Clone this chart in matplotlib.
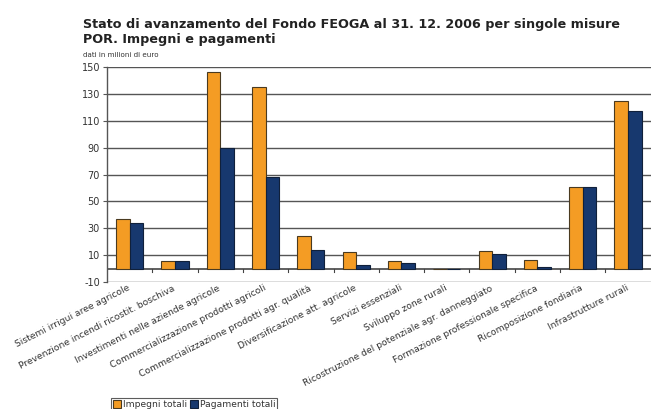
import numpy as np
import matplotlib
matplotlib.use("Agg")
import matplotlib.pyplot as plt

categorie = [
    "Sistemi irrigui aree agricole",
    "Prevenzione incendi ricostit. boschiva",
    "Investimenti nelle aziende agricole",
    "Commercializzazione prodotti agricoli",
    "Commercializzazione prodotti agr. qualità",
    "Diversificazione att. agricole",
    "Servizi essenziali",
    "Sviluppo zone rurali",
    "Ricostruzione del potenziale agr. danneggiato",
    "Formazione professionale specifica",
    "Ricomposizione fondiaria",
    "Infrastrutture rurali",
]
impegni = [37, 6, 146, 135, 24, 12, 6, 0, 13, 6.5, 61, 125]
pagamenti = [34, 5.5, 90, 68.5, 14, 3, 4.5, 0, 11, 1, 61, 117]
yticks = [-10, 10, 30, 50, 70, 90, 110, 130, 150]

orange = "#F49C24"
blue = "#17386E"
txt = "#333333"

fig = plt.figure(figsize=(6.56, 4.09), dpi=100)
ax = fig.add_axes([0.163, 0.3105, 0.829, 0.5255])

x = np.arange(len(categorie))
w = 0.3
ax.bar(x - w / 2, impegni, w, color=orange, edgecolor="#4a3a20", linewidth=0.8,
       label="Impegni totali", zorder=3)
ax.bar(x + w / 2, pagamenti, w, color=blue, edgecolor="#10203a", linewidth=0.8,
       label="Pagamenti totali", zorder=3)

ax.set_xlim(-0.5, len(categorie) - 0.5)
ax.set_ylim(-10, 150)
ax.set_yticks(yticks)
ax.set_yticklabels([str(v) for v in yticks], fontsize=7, color=txt)
for v in yticks:
    ax.axhline(v, color="#555555", linewidth=1.0, zorder=1)
ax.axhline(0, color="#444444", linewidth=1.2, zorder=2)

# small tick marks on the zero line between categories
for b in np.arange(0.5, len(categorie) - 0.5, 1):
    ax.plot([b, b], [0, -2.2], color="#444444", linewidth=0.8, zorder=2)

ax.set_xticks(x)
ax.set_xticklabels([])
ax.tick_params(axis="x", length=0)
ax.tick_params(axis="y", length=3, color="#555555", pad=2)
for s in ["top", "right", "bottom"]:
    ax.spines[s].set_visible(False)
ax.spines["left"].set_color("#555555")
ax.spines["left"].set_linewidth(1.0)

for xi, lab in zip(x, categorie):
    ax.text(xi - 0.05, -11.2, lab, rotation=27, ha="right", va="top",
            rotation_mode="anchor", fontsize=6.6, color=txt)

fig.text(0.127, 0.955, "Stato di avanzamento del Fondo FEOGA al 31. 12. 2006 per singole misure\nPOR. Impegni e pagamenti",
         fontsize=9.2, fontweight="bold", color="#222222", va="top", linespacing=1.2)
fig.text(0.127, 0.874, "dati in milioni di euro", fontsize=5.1, color=txt, va="top")

leg = fig.legend(loc="lower left", bbox_to_anchor=(0.162, -0.016), ncol=2,
                 fontsize=6.6, frameon=True, fancybox=False, edgecolor="#333333",
                 handlelength=0.9, handleheight=0.9, handletextpad=0.2,
                 columnspacing=0.3, borderpad=0.2, labelcolor=txt)
leg.get_frame().set_linewidth(0.8)

fig.savefig("out.png", dpi=100)
